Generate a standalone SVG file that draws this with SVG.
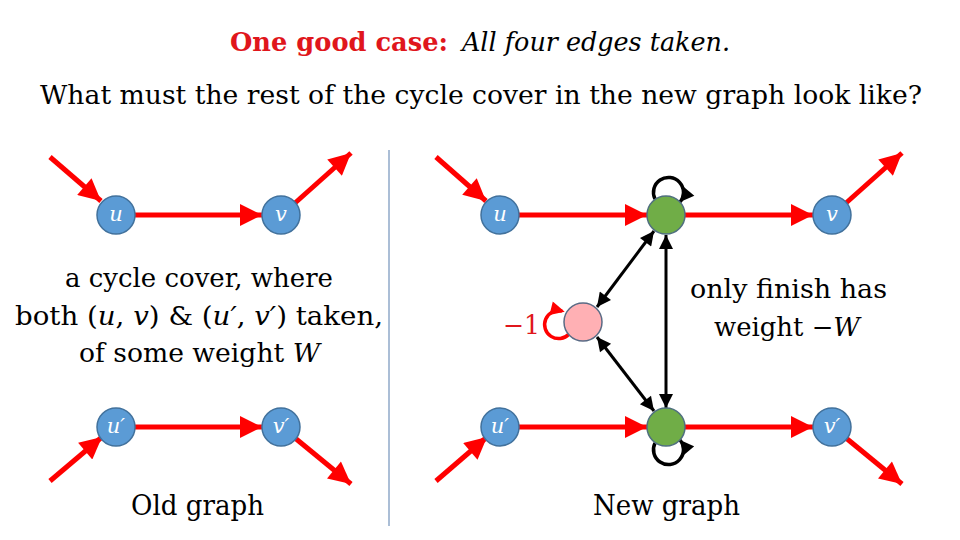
<svg xmlns="http://www.w3.org/2000/svg" width="960" height="540" viewBox="0 0 960 540">
<defs>
<marker id="rh" viewBox="0 0 10 10" refX="10" refY="5" markerWidth="24" markerHeight="22" markerUnits="userSpaceOnUse" orient="auto"><path d="M0,0 L10,5 L0,10 z" fill="#ff0000"/></marker>
<marker id="bh" viewBox="0 0 10 10" refX="10" refY="5" markerWidth="16" markerHeight="14" markerUnits="userSpaceOnUse" orient="auto-start-reverse"><path d="M0,0 L10,5 L0,10 z" fill="#000"/></marker>
<marker id="rl" viewBox="0 0 10 10" refX="8" refY="5" markerWidth="15" markerHeight="14" markerUnits="userSpaceOnUse" orient="auto"><path d="M0,0 L10,5 L0,10 z" fill="#ff0000"/></marker>
</defs>
<style>
.t{font-family:"DejaVu Serif","Liberation Serif",serif;fill:#000}
.lbl{font-family:"DejaVu Serif","Liberation Serif",serif;font-style:italic;fill:#fff;font-size:21px;text-anchor:middle}
.blue{fill:#5b9bd5;stroke:#41719c;stroke-width:1.5}
.green{fill:#70ad47;stroke:#4f6f7f;stroke-width:1.5}
.pink{fill:#ffb0b4;stroke:#5a6b85;stroke-width:1.5}
.re{stroke:#ff0000;stroke-width:5;fill:none;marker-end:url(#rh)}
.be{stroke:#000;stroke-width:3;fill:none;marker-start:url(#bh);marker-end:url(#bh)}
.bl{stroke:#000;stroke-width:3.5;fill:none;marker-end:url(#bh)}
</style>
<rect width="960" height="540" fill="#fff"/>
<text class="t" x="230" y="51" font-size="26" font-weight="bold" style="fill:#e0161c" textLength="218" lengthAdjust="spacingAndGlyphs">One good case:</text>
<text class="t" x="462" y="51" font-size="26" font-style="italic" textLength="268" lengthAdjust="spacingAndGlyphs">All four edges taken.</text>
<text class="t" x="40" y="104" font-size="26" textLength="882" lengthAdjust="spacingAndGlyphs">What must the rest of the cycle cover in the new graph look like?</text>
<line x1="389" y1="150" x2="389" y2="526" stroke="#8fa8c8" stroke-width="1.5"/>
<g id="connectors">
<line class="re" x1="50" y1="157" x2="101" y2="201"/>
<line class="re" x1="135" y1="215" x2="262" y2="215"/>
<line class="re" x1="295" y1="203" x2="351" y2="153"/>
<line class="re" x1="50" y1="481" x2="102" y2="437"/>
<line class="re" x1="135" y1="427" x2="262" y2="427"/>
<line class="re" x1="295" y1="438" x2="351" y2="484"/>
<line class="re" x1="436" y1="157" x2="486" y2="201"/>
<line class="re" x1="519" y1="215" x2="647" y2="215"/>
<line class="re" x1="685" y1="215" x2="813" y2="215"/>
<line class="re" x1="846" y1="203" x2="902" y2="153"/>
<line class="re" x1="436" y1="481" x2="487" y2="437"/>
<line class="re" x1="519" y1="427" x2="647" y2="427"/>
<line class="re" x1="685" y1="427" x2="813" y2="427"/>
<line class="re" x1="846" y1="438" x2="902" y2="484"/>
<line class="be" x1="654" y1="231" x2="597" y2="307"/>
<line class="be" x1="666" y1="235" x2="666" y2="408"/>
<line class="be" x1="597" y1="337" x2="654" y2="411"/>
<path class="bl" d="M655,199 A15,15 0 1 1 680,202"/>
<path class="bl" d="M655,443 A15,15 0 1 0 680,440"/>
<path d="M569,334 A14,14 0 1 1 562,311" stroke="#ff0000" stroke-width="3.5" fill="none" marker-end="url(#rl)"/>
</g>
<g id="u"><circle class="blue" cx="116" cy="215" r="19"/><text class="lbl" x="116" y="221">u</text></g>
<g id="v"><circle class="blue" cx="281" cy="215" r="19"/><text class="lbl" x="281" y="221">v</text></g>
<g id="u2"><circle class="blue" cx="116" cy="427" r="19"/><text class="lbl" x="116" y="433">u′</text></g>
<g id="v2"><circle class="blue" cx="281" cy="427" r="19"/><text class="lbl" x="281" y="433">v′</text></g>
<g id="nu"><circle class="blue" cx="500" cy="215" r="19"/><text class="lbl" x="500" y="221">u</text></g>
<g id="gtop"><circle class="green" cx="666" cy="215" r="19"/></g>
<g id="nv"><circle class="blue" cx="832" cy="215" r="19"/><text class="lbl" x="832" y="221">v</text></g>
<g id="nu2"><circle class="blue" cx="500" cy="427" r="19"/><text class="lbl" x="500" y="433">u′</text></g>
<g id="gbot"><circle class="green" cx="666" cy="427" r="19"/></g>
<g id="nv2"><circle class="blue" cx="832" cy="427" r="19"/><text class="lbl" x="832" y="433">v′</text></g>
<g id="pink"><circle class="pink" cx="583" cy="322" r="19"/></g>
<text class="t" x="65" y="287" font-size="26" textLength="268" lengthAdjust="spacingAndGlyphs">a cycle cover, where</text>
<text class="t" x="15" y="325" font-size="26" textLength="368" lengthAdjust="spacingAndGlyphs">both (<tspan font-style="italic">u</tspan>, <tspan font-style="italic">v</tspan>) &amp; (<tspan font-style="italic">u′</tspan>, <tspan font-style="italic">v′</tspan>) taken,</text>
<text class="t" x="79" y="362" font-size="26" textLength="241" lengthAdjust="spacingAndGlyphs">of some weight <tspan font-style="italic">W</tspan></text>
<text class="t" x="131" y="515" font-size="28" textLength="133" lengthAdjust="spacingAndGlyphs">Old graph</text>
<text class="t" x="593" y="515" font-size="28" textLength="147" lengthAdjust="spacingAndGlyphs">New graph</text>
<text class="t" x="690" y="298" font-size="26" textLength="197" lengthAdjust="spacingAndGlyphs">only finish has</text>
<text class="t" x="714" y="336" font-size="26" textLength="146" lengthAdjust="spacingAndGlyphs">weight −<tspan font-style="italic">W</tspan></text>
<text class="t" x="503" y="334" font-size="26" style="fill:#e0161c" textLength="37" lengthAdjust="spacingAndGlyphs">−1</text>
</svg>
